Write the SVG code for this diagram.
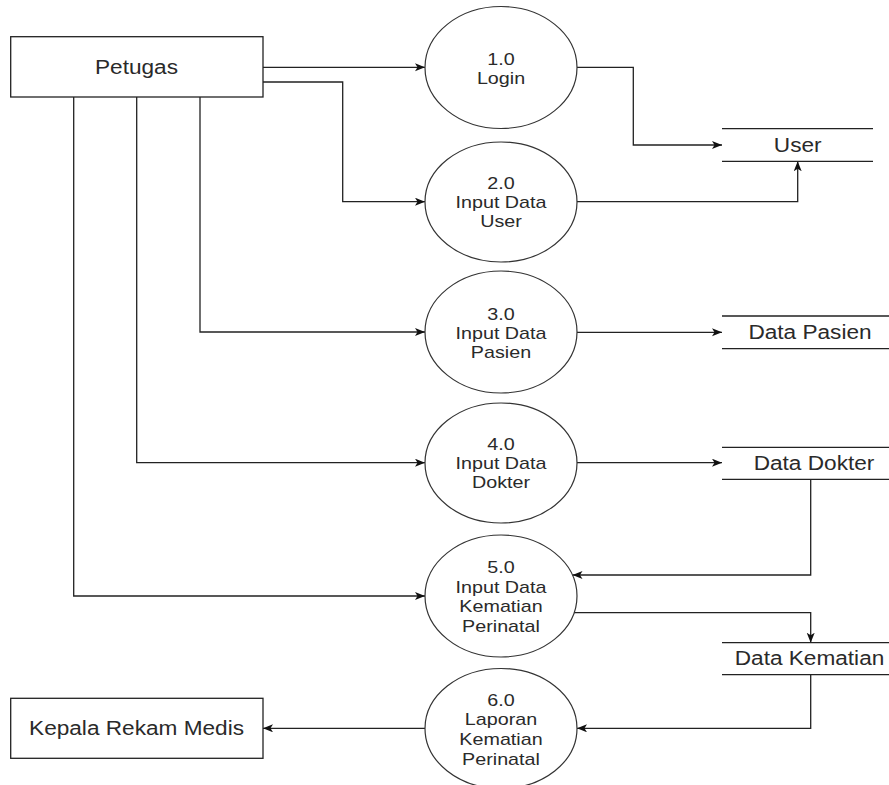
<svg xmlns="http://www.w3.org/2000/svg" width="889" height="785" viewBox="0 0 889 785">
<style>
.bg{fill:#fff}
.ent{fill:#fff;stroke:#222;stroke-width:1.3}
.proc{fill:#fff;stroke:#333;stroke-width:1.2}
.store{stroke:#222;stroke-width:1.3;fill:none}
.con{fill:none;stroke:#222;stroke-width:1.3}
text{font-family:"Liberation Sans",Arial,sans-serif;fill:#2a2a2a;text-anchor:middle}
.tp{font-size:17px}
.tb{font-size:19.5px}
</style>
<defs>
<marker id="arr" markerUnits="userSpaceOnUse" markerWidth="12" markerHeight="10" refX="10" refY="4" orient="auto">
<path d="M0,0 L10,4 L0,8 L2.5,4 Z" fill="#111"/>
</marker>
</defs>
<rect class="bg" x="0" y="0" width="889" height="785"/>

<g id="connectors">
<path class="con" d="M263,67.3 H425" marker-end="url(#arr)"/>
<path class="con" d="M263,82 H342.7 V201.7 H425" marker-end="url(#arr)"/>
<path class="con" d="M200,97 V332 H425" marker-end="url(#arr)"/>
<path class="con" d="M136.7,97 V462.7 H425" marker-end="url(#arr)"/>
<path class="con" d="M73.7,97 V596 H425" marker-end="url(#arr)"/>
<path class="con" d="M577,67.3 H633.3 V145 H722" marker-end="url(#arr)"/>
<path class="con" d="M577,201.7 H797.7 V161.3" marker-end="url(#arr)"/>
<path class="con" d="M577,332.3 H722" marker-end="url(#arr)"/>
<path class="con" d="M577,462.7 H722" marker-end="url(#arr)"/>
<path class="con" d="M810.7,479.3 V575 H572.5" marker-end="url(#arr)"/>
<path class="con" d="M574,612.7 H810.7 V642.7" marker-end="url(#arr)"/>
<path class="con" d="M810.7,674.7 V728.3 H577" marker-end="url(#arr)"/>
<path class="con" d="M425,728.3 H263" marker-end="url(#arr)"/>
</g>

<g id="petugas">
<rect class="ent" x="10.7" y="36.7" width="252.3" height="60.3"/>
<text class="tb" transform="translate(136.5,73.5) scale(1.16,1)">Petugas</text>
</g>

<g id="kepala">
<rect class="ent" x="10.7" y="698.3" width="252.3" height="60"/>
<text class="tb" transform="translate(136.5,735) scale(1.16,1)">Kepala Rekam Medis</text>
</g>

<g id="p1">
<ellipse class="proc" cx="501" cy="67.5" rx="76" ry="61"/>
<text class="tp" transform="translate(501,64.5) scale(1.16,1)">1.0</text>
<text class="tp" transform="translate(501,83.5) scale(1.16,1)">Login</text>
</g>

<g id="p2">
<ellipse class="proc" cx="501" cy="202" rx="76" ry="60"/>
<text class="tp" transform="translate(501,189) scale(1.16,1)">2.0</text>
<text class="tp" transform="translate(501,208) scale(1.16,1)">Input Data</text>
<text class="tp" transform="translate(501,227) scale(1.16,1)">User</text>
</g>

<g id="p3">
<ellipse class="proc" cx="501" cy="332" rx="76" ry="61"/>
<text class="tp" transform="translate(501,319.5) scale(1.16,1)">3.0</text>
<text class="tp" transform="translate(501,338.5) scale(1.16,1)">Input Data</text>
<text class="tp" transform="translate(501,357.5) scale(1.16,1)">Pasien</text>
</g>

<g id="p4">
<ellipse class="proc" cx="501" cy="463" rx="76" ry="60"/>
<text class="tp" transform="translate(501,450) scale(1.16,1)">4.0</text>
<text class="tp" transform="translate(501,469) scale(1.16,1)">Input Data</text>
<text class="tp" transform="translate(501,488) scale(1.16,1)">Dokter</text>
</g>

<g id="p5">
<ellipse class="proc" cx="501" cy="596" rx="76" ry="61"/>
<text class="tp" transform="translate(501,573) scale(1.16,1)">5.0</text>
<text class="tp" transform="translate(501,592.5) scale(1.16,1)">Input Data</text>
<text class="tp" transform="translate(501,612) scale(1.16,1)">Kematian</text>
<text class="tp" transform="translate(501,631.7) scale(1.16,1)">Perinatal</text>
</g>

<g id="p6">
<ellipse class="proc" cx="501" cy="728.5" rx="76" ry="60"/>
<text class="tp" transform="translate(501,706) scale(1.16,1)">6.0</text>
<text class="tp" transform="translate(501,725.3) scale(1.16,1)">Laporan</text>
<text class="tp" transform="translate(501,745) scale(1.16,1)">Kematian</text>
<text class="tp" transform="translate(501,764.5) scale(1.16,1)">Perinatal</text>
</g>

<g id="s-user">
<path class="store" d="M722,128.7 H873 M722,161.3 H873"/>
<text class="tb" transform="translate(797.7,152) scale(1.16,1)">User</text>
</g>

<g id="s-pasien">
<path class="store" d="M722,316 H889 M722,348.7 H889"/>
<text class="tb" transform="translate(810,339.3) scale(1.16,1)">Data Pasien</text>
</g>

<g id="s-dokter">
<path class="store" d="M722,447.3 H889 M722,479.3 H889"/>
<text class="tb" transform="translate(814,469.7) scale(1.16,1)">Data Dokter</text>
</g>

<g id="s-kematian">
<path class="store" d="M722,642.7 H889 M722,674.7 H889"/>
<text class="tb" transform="translate(809.5,664.7) scale(1.16,1)">Data Kematian</text>
</g>
</svg>
